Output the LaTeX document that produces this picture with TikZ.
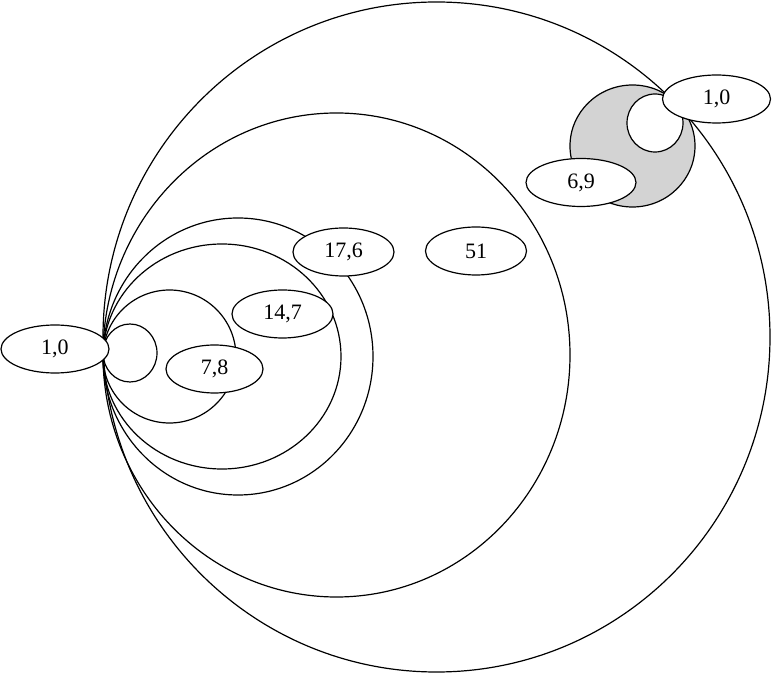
\documentclass[tikz,border=0pt]{standalone}
\usepackage{fontspec}
\setmainfont{Liberation Serif}
\usepackage{xcolor}
\usepackage{tikz}
\usetikzlibrary{shapes.geometric}

\definecolor{loopgray}{RGB}{211,211,211}

\begin{document}
\begin{tikzpicture}[
  x=0.5pt, y=-0.5pt,
  font=\fontsize{11}{13}\selectfont,
  line width=0.6pt,
  state/.style={ellipse, draw=black, fill=white, inner sep=0pt, minimum width=54pt, minimum height=24pt},
  weight/.style={ellipse, draw=black, fill=white, inner sep=0pt, minimum width=50.5pt, minimum height=24pt},
  loopline/.style={draw=black},
  shadeloop/.style={draw=black, fill=loopgray}
]
\useasboundingbox (0,0) rectangle (772,673);
% edges between the two states (one round trip)
\draw [loopline] (436.5,337) ellipse [x radius=333.5, y radius=335];
% self loops of the left state
\draw [loopline] (336.5,355) ellipse [x radius=233.5, y radius=242];
\draw [loopline] (238,356.5) ellipse [x radius=135, y radius=138.5];
\draw [loopline] (222,356.5) ellipse [x radius=119, y radius=112.5];
\draw [loopline] (169.5,356.5) ellipse [x radius=66.5, y radius=66.5];
\draw [loopline] (130,353) ellipse [x radius=27, y radius=29];
% self loops of the right state
\draw [shadeloop] (632.5,146) ellipse [x radius=62.5, y radius=61];
\draw [loopline, fill=white] (655,123) ellipse [x radius=28, y radius=29];
% states
\node (left) [state] at (55,349) {1,0};
\node (right) [state] at (716.5,99) {1,0};
% loop weights
\node (w78) [weight, minimum width=48.5pt] at (214.5,369) {7,8};
\node (w147) [weight] at (282.5,314) {14,7};
\node (w176) [weight] at (343.5,252) {17,6};
\node (w51) [weight] at (476,251) {51};
\node (w69) [weight, minimum width=55pt] at (581,182.5) {6,9};
\end{tikzpicture}
\end{document}
